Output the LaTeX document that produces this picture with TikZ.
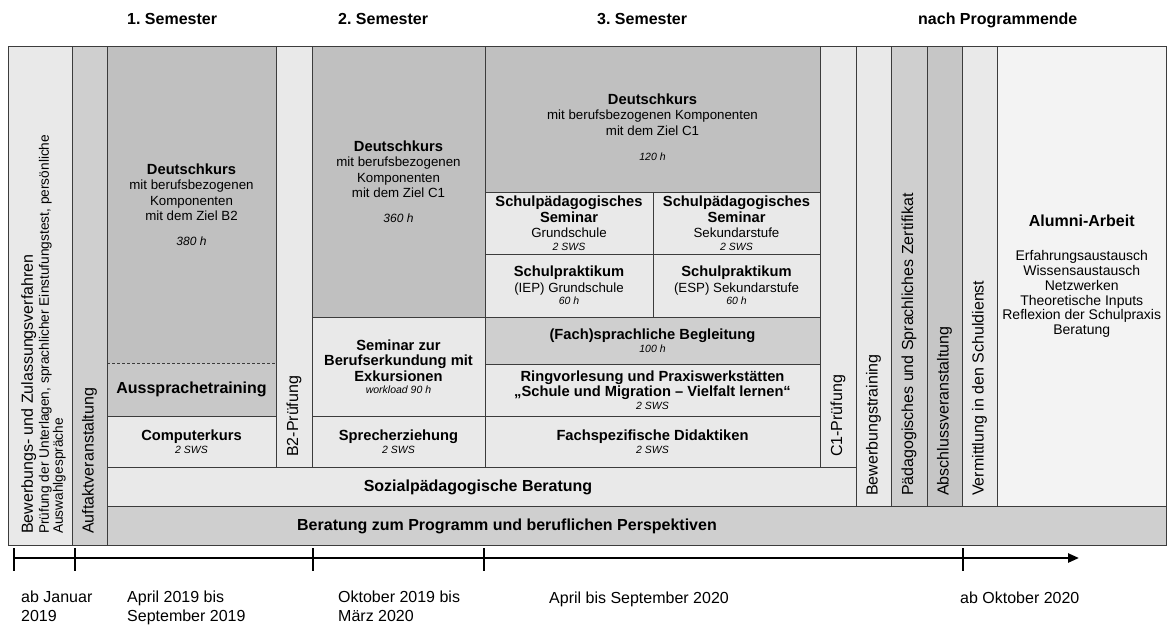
\documentclass[tikz,border=0pt]{standalone}
\usepackage{fontspec}
\setmainfont{Liberation Sans}
\usetikzlibrary{arrows.meta}
\frenchspacing
\definecolor{dk}{HTML}{C0C0C0}
\definecolor{dkb}{HTML}{C8C8C8}
\definecolor{md}{HTML}{CFCFCF}
\definecolor{mdd}{HTML}{C6C6C6}
\definecolor{lt}{HTML}{E9E9E9}
\definecolor{vl}{HTML}{F3F3F3}
\definecolor{ln}{HTML}{3C3C3C}
\newcommand\fT{\fontsize{14.7}{16}\selectfont\bfseries}
\newcommand\fR{\fontsize{13.3}{15.5}\selectfont}
\newcommand\fS{\fontsize{10.5}{12}\selectfont\itshape}
\newcommand\fH{\fontsize{12}{14}\selectfont\itshape}
\newcommand\fL{\fontsize{16}{18}\selectfont\bfseries}
\newcommand\fV{\fontsize{16}{18}\selectfont}
\newcommand\cell[7]{%
  \pgfmathsetmacro\cellW{#4-#2}%
  \pgfmathsetmacro\cellH{#5-#3}%
  \node[cellbox,#6,minimum width=\cellW pt,minimum height=\cellH pt] (#1) at ({(#2+#4)/2},{(#3+#5)/2}) {#7};}
\tikzset{
  cellbox/.style={draw=ln, line width=1pt, inner sep=0pt, outer sep=0pt, align=center, font=\fR},
  nodraw/.style={draw=none},
  vtext/.style={rotate=90, anchor=west, font=\fV, inner sep=0pt},
  hdr/.style={font=\fL, inner sep=0pt, anchor=base west},
  tlabel/.style={font=\fontsize{16}{18.5}\selectfont, align=left, inner sep=0pt, anchor=base west},
  tl/.style={line width=2.4pt, draw=black},
  tick/.style={line width=2.6pt, draw=black}
}
\begin{document}
\begin{tikzpicture}[x=1pt,y=-1pt]
\useasboundingbox (0,0) rectangle (1167,624);
\fill[white] (0,0) rectangle (1167,624);

% headers
\node[hdr] (h1) at (127,24) {1. Semester};
\node[hdr] (h2) at (338,24) {2. Semester};
\node[hdr] (h3) at (597,24) {3. Semester};
\node[hdr] (h4) at (918,24) {nach Programmende};

% left columns
\cell{bew}{8}{46}{72}{545}{fill=lt}{}
\cell{auf}{72}{46}{107}{545}{fill=md}{}
\node[rotate=90,anchor=north west,align=left,inner sep=0pt,font=\fontsize{13.7}{14}\selectfont] (bewt) at (21,534)
  {{\fV Bewerbungs- und Zulassungsverfahren}\\[2pt]Prüfung der Unterlagen, sprachlicher Einstufungstest, persönliche\\Auswahlgespräche};
\node[vtext] (auft) at (89.5,534) {Auftaktveranstaltung};

% 1. Semester
\cell{dk1}{107}{46}{276}{363}{fill=dk,nodraw}{{\fT Deutschkurs}\\mit berufsbezogenen\\Komponenten\\mit dem Ziel B2\\[9pt]{\fH 380 h}}
\cell{aus}{107}{363}{276}{416}{fill=dkb,nodraw}{{\fL Aussprachetraining}}
\draw[draw=ln,line width=1pt] (dk1.north west) rectangle (aus.south east);
\draw[draw=ln,line width=0.9pt,dash pattern=on 3pt off 2pt] (dk1.south west) -- (dk1.south east);
\cell{comp}{107}{416}{276}{467}{fill=lt}{{\fT Computerkurs}\\[-3pt]{\fS 2 SWS}}
\cell{b2}{276}{46}{312}{467}{fill=lt}{}
\node[vtext] (b2t) at (294,457) {B2-Prüfung};

% 2. Semester
\cell{dk2}{312}{46}{485}{317}{fill=dk}{{\fT Deutschkurs}\\mit berufsbezogenen\\Komponenten\\mit dem Ziel C1\\[9pt]{\fH 360 h}}
\cell{sem}{312}{317}{485}{416}{fill=lt}{{\fT Seminar zur}\\{\fT Berufserkundung mit}\\{\fT Exkursionen}\\[-3pt]{\fS workload 90 h}}
\cell{spr}{312}{416}{485}{467}{fill=lt}{{\fT Sprecherziehung}\\[-3pt]{\fS 2 SWS}}

% 3. Semester
\cell{dk3}{485}{46}{820}{192}{fill=dk}{}
\node[align=center,inner sep=0pt,font=\fR] (dk3t) at (652.5,127) {{\fT Deutschkurs}\\mit berufsbezogenen Komponenten\\mit dem Ziel C1\\[10pt]{\fS 120 h}};
\cell{spg}{485}{192}{653}{254}{fill=lt}{{\fT Schulpädagogisches}\\{\fT Seminar}\\Grundschule\\[-3pt]{\fS 2 SWS}}
\cell{sps}{653}{192}{820}{254}{fill=lt}{{\fT Schulpädagogisches}\\{\fT Seminar}\\Sekundarstufe\\[-3pt]{\fS 2 SWS}}
\cell{prg}{485}{254}{653}{317}{fill=lt}{{\fT Schulpraktikum}\\(IEP) Grundschule\\[-3pt]{\fS 60 h}}
\cell{prs}{653}{254}{820}{317}{fill=lt}{{\fT Schulpraktikum}\\(ESP) Sekundarstufe\\[-3pt]{\fS 60 h}}
\cell{fach}{485}{317}{820}{364}{fill=md}{{\fT (Fach)sprachliche Begleitung}\\[-2pt]{\fS 100 h}}
\cell{ring}{485}{364}{820}{416}{fill=lt}{{\fT Ringvorlesung und Praxiswerkstätten}\\{\fT „Schule und Migration – Vielfalt lernen“}\\[-3pt]{\fS 2 SWS}}
\cell{fsd}{485}{416}{820}{467}{fill=lt}{{\fT Fachspezifische Didaktiken}\\[-3pt]{\fS 2 SWS}}
\cell{c1}{820}{46}{856}{467}{fill=lt}{}
\node[vtext] (c1t) at (838,457) {C1-Prüfung};

% bottom rows
\cell{soz}{107}{467}{856}{506}{fill=lt}{}
\node[font=\fL,inner sep=0pt] (sozt) at (478,487) {Sozialpädagogische Beratung};
\cell{ber}{107}{506}{1166.5}{545}{fill=md}{}
\node[font=\fL,inner sep=0pt] (bert) at (507,526) {Beratung zum Programm und beruflichen Perspektiven};

% after programme
\cell{bwt}{856}{46}{891}{506}{fill=lt}{}
\node[vtext] (bwtt) at (873.5,496) {Bewerbungstraining};
\cell{pad}{891}{46}{927}{506}{fill=md}{}
\node[vtext] (padt) at (909,496) {Pädagogisches und Sprachliches Zertifikat};
\cell{abs}{927}{46}{962}{506}{fill=mdd}{}
\node[vtext] (abst) at (944.5,496) {Abschlussveranstaltung};
\cell{ver}{962}{46}{997}{506}{fill=lt}{}
\node[vtext] (vert) at (979.5,496) {Vermittlung in den Schuldienst};
\cell{alu}{997}{46}{1166.5}{506}{fill=vl,font=\fontsize{14}{14.7}\selectfont}{{\fL Alumni-Arbeit}\\[20pt]Erfahrungsaustausch\\Wissensaustausch\\Netzwerken\\Theoretische Inputs\\Reflexion der Schulpraxis\\Beratung}

% timeline
\coordinate (t0) at (14,558);
\coordinate (t1) at (75,558);
\coordinate (t2) at (313,558);
\coordinate (t3) at (484,558);
\coordinate (t4) at (963,558);
\coordinate (tend) at (1079,558);
\draw[tl,-{Triangle[length=11pt,width=9pt]}] (t0) -- (tend);
\foreach \t in {t0,t1,t2,t3,t4} {\draw[tick] (\t) ++(0,-10) -- ++(0,23);}

\node[tlabel] (l0) at (21,621) {ab Januar\\2019};
\node[tlabel] (l1) at (127,621) {April 2019 bis\\September 2019};
\node[tlabel] (l2) at (338,621) {Oktober 2019 bis\\März 2020};
\node[tlabel] (l3) at (549,603) {April bis September 2020};
\node[tlabel] (l4) at (960,603) {ab Oktober 2020};
\end{tikzpicture}
\end{document}
